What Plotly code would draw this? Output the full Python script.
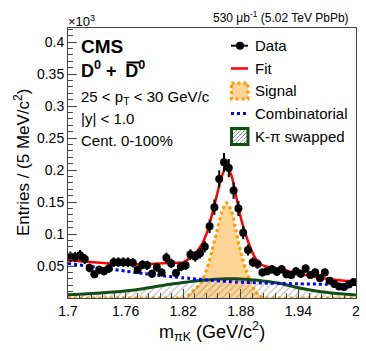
import plotly.graph_objects as go

# ---------------- data (entries in units of 10^3 per 5 MeV bin) ----------------
mass_min = 1.7
bin_width = 0.005
data_y = [0.0645, 0.064, 0.067, 0.061, 0.047, 0.037, 0.044, 0.042, 0.046, 0.056,
          0.056, 0.056, 0.056, 0.055, 0.044, 0.052, 0.051, 0.038, 0.048, 0.040,
          0.063, 0.054, 0.039, 0.049, 0.051, 0.068, 0.065, 0.070, 0.080, 0.112,
          0.142, 0.186, 0.212, 0.203, 0.168, 0.140, 0.102, 0.075, 0.056, 0.053,
          0.040, 0.042, 0.045, 0.041, 0.045, 0.037, 0.036, 0.042, 0.038, 0.046,
          0.036, 0.040, 0.031, 0.040, 0.027, 0.022, 0.018, 0.017, 0.021, 0.025]
bin_centers = [round(mass_min + bin_width * (i + 0.5), 5) for i in range(len(data_y))]
data_err = [(v / 1000.0) ** 0.5 for v in data_y]  # sqrt(N) in units of 10^3

# fit components sampled along the mass axis
curve_x = [1.70, 1.72, 1.74, 1.76, 1.78, 1.80, 1.81, 1.82, 1.825, 1.83, 1.835, 1.84,
           1.845, 1.85, 1.855, 1.86, 1.865, 1.87, 1.875, 1.88, 1.885, 1.89, 1.895,
           1.90, 1.905, 1.91, 1.92, 1.94, 1.96, 1.98, 2.00]
signal_y = [0, 0, 0, 0, 0, 0, 0, 0, 0.004, 0.011, 0.018, 0.029,
            0.047, 0.074, 0.104, 0.133, 0.149, 0.137, 0.105, 0.071, 0.046, 0.026, 0.011,
            0.003, 0, 0, 0, 0, 0, 0, 0]
swapped_y = [0.005, 0.0065, 0.0085, 0.011, 0.015, 0.020, 0.0222, 0.0242, 0.0252, 0.026, 0.0268, 0.0276,
             0.0283, 0.0289, 0.0294, 0.0298, 0.030, 0.030, 0.0299, 0.0296, 0.0292, 0.0287, 0.028,
             0.0272, 0.0263, 0.0253, 0.023, 0.016, 0.0105, 0.007, 0.0048]
comb_y = [0.054, 0.050, 0.046, 0.042, 0.038, 0.0345, 0.033, 0.0315, 0.031, 0.030, 0.0295, 0.029,
          0.028, 0.0275, 0.027, 0.0265, 0.026, 0.0255, 0.025, 0.0248, 0.0245, 0.024, 0.0238,
          0.0235, 0.0233, 0.023, 0.0228, 0.0222, 0.0217, 0.0213, 0.021]
fit_y = [0.059, 0.0565, 0.0545, 0.053, 0.053, 0.0545, 0.0552, 0.0557, 0.0602, 0.067, 0.0743, 0.0856,
         0.1033, 0.1304, 0.1604, 0.1893, 0.205, 0.1925, 0.1599, 0.1254, 0.0997, 0.0787, 0.0628,
         0.0537, 0.0496, 0.0483, 0.0458, 0.0382, 0.0322, 0.0283, 0.0258]

x_tickvals = [1.7, 1.76, 1.82, 1.88, 1.94, 2.0]
x_ticktext = ["1.7", "1.76", "1.82", "1.88", "1.94", "2"]
y_tickvals = [0.05, 0.1, 0.15, 0.2, 0.25, 0.3, 0.35, 0.4]
y_ticktext = ["0.05", "0.1", "0.15", "0.2", "0.25", "0.3", "0.35", "0.4"]
legend_labels = ["Data", "Fit", "Signal", "Combinatorial", "K-\u03c0 swapped"]

# ---------------- styling ----------------
FONT = "Liberation Sans, Arial, Helvetica, sans-serif"
W, H = 366, 351
L, R, T, B = 68, 356, 28, 298

def px2x(p):
    return (p - L) / (R - L)

def py2y(p):
    return (B - p) / (B - T)

SIG_FILL = "rgba(255,160,20,0.45)"
SIG_LINE = "#ff9900"
SWP_LINE = "#114d14"
SWP_HATCH = "#7f8e7f"
COMB_LINE = "#0000ff"
FIT_LINE = "#ff0000"

fig = go.Figure()

fig.add_trace(go.Scatter(x=curve_x, y=signal_y, mode="lines", fill="tozeroy",
                         fillcolor=SIG_FILL,
                         line=dict(color=SIG_LINE, width=3, dash="dot", shape="spline", smoothing=0.8),
                         showlegend=False, hoverinfo="skip"))
fig.add_trace(go.Scatter(x=curve_x, y=swapped_y, mode="lines", fill="tozeroy",
                         fillcolor="rgba(0,0,0,0)",
                         fillpattern=dict(shape="/", fgcolor=SWP_HATCH, size=5, solidity=0.28),
                         line=dict(color=SWP_LINE, width=3, shape="spline", smoothing=0.8),
                         showlegend=False, hoverinfo="skip"))
fig.add_trace(go.Scatter(x=curve_x, y=comb_y, mode="lines",
                         line=dict(color=COMB_LINE, width=3, dash="dot", shape="spline", smoothing=0.8),
                         showlegend=False, hoverinfo="skip"))
fig.add_trace(go.Scatter(x=curve_x, y=fit_y, mode="lines",
                         line=dict(color=FIT_LINE, width=2.5, shape="spline", smoothing=0.8),
                         showlegend=False, hoverinfo="skip"))
fig.add_trace(go.Scatter(x=bin_centers, y=data_y, mode="markers",
                         marker=dict(color="black", size=8),
                         error_y=dict(type="data", array=data_err, color="black", thickness=2, width=0),
                         showlegend=False))

axis_common = dict(showline=True, linecolor="#444", linewidth=1, mirror=True, automargin=False,
                   ticks="inside", tickcolor="#444", showgrid=False, zeroline=False,
                   tickfont=dict(family=FONT, size=14, color="black"))

fig.update_xaxes(range=[1.7, 2.0], tickvals=x_tickvals, ticktext=x_ticktext, ticklen=9,
                 minor=dict(ticks="inside", ticklen=5, dtick=0.012, tick0=1.7, tickcolor="#444"),
                 **axis_common)
fig.update_yaxes(range=[0.0, 0.422], ticklen=9, tickvals=y_tickvals, ticktext=y_ticktext,
                 minor=dict(ticks="inside", ticklen=5, dtick=0.01, tick0=0, tickcolor="#444"),
                 **axis_common)

ann = []
def text(x, y, s, size, anchor="left", bold=False, angle=0):
    ann.append(dict(x=x, y=y, xref="paper", yref="paper", text=("<b>%s</b>" % s) if bold else s,
                    showarrow=False, xanchor=anchor, yanchor="middle", textangle=angle,
                    font=dict(family=FONT, size=size, color="black")))

# axis titles
text(px2x(212), py2y(331), "m<sub>\u03c0K</sub> (GeV/c<sup>2</sup>)", 18, anchor="center")
text(px2x(22), py2y(163), "Entries / (5 MeV/c<sup>2</sup>)", 17, anchor="center", angle=-90)

text(px2x(66), py2y(21), "\u00d710<sup>3</sup>", 13)
text(px2x(351), py2y(17), "530 \u03bcb<sup>-1</sup> (5.02 TeV PbPb)", 12, anchor="right")
text(px2x(79), py2y(46.5), "CMS", 19, bold=True)
text(px2x(79), py2y(69), "D<sup>0</sup> + \u2009D<sup>0</sup>", 18, bold=True)
text(px2x(79), py2y(97), "25 < p<sub>T</sub> < 30 GeV/c", 15)
text(px2x(79), py2y(118), "|y| < 1.0", 15)
text(px2x(79), py2y(140), "Cent. 0-100%", 15)

# legend (manual, ROOT style)
leg_y = [45.7, 68.5, 91, 113.5, 136.5]
for lab, yy in zip(legend_labels, leg_y):
    text(px2x(253), py2y(yy), lab, 15)

shapes = []
def pline(x0, y0, x1, y1, color, width, dash="solid"):
    shapes.append(dict(type="line", xref="paper", yref="paper", x0=px2x(x0), y0=py2y(y0),
                       x1=px2x(x1), y1=py2y(y1), line=dict(color=color, width=width, dash=dash)))

# overline of anti-D
pline(126.5, 62.5, 139, 62.5, "black", 2)

# Data
pline(231, leg_y[0], 248, leg_y[0], "black", 2)
shapes.append(dict(type="circle", xref="paper", yref="paper", x0=px2x(236), x1=px2x(244),
                   y0=py2y(leg_y[0] - 4), y1=py2y(leg_y[0] + 4), fillcolor="black", line=dict(width=0)))
# Fit
pline(231, leg_y[1], 248, leg_y[1], FIT_LINE, 2.5)
# Signal box
shapes.append(dict(type="rect", xref="paper", yref="paper", x0=px2x(231.5), x1=px2x(248),
                   y0=py2y(leg_y[2] - 8), y1=py2y(leg_y[2] + 8), fillcolor=SIG_FILL,
                   line=dict(color=SIG_LINE, width=3, dash="dot")))
# Combinatorial
pline(231, leg_y[3], 248, leg_y[3], COMB_LINE, 3, "dot")
# K-pi swapped box with hatch
bx0, bx1, by0, by1 = 231.5, 248, leg_y[4] - 8, leg_y[4] + 8
segs = []
k = bx0 + by0 + 3
while k < bx1 + by1:
    xa = max(bx0, k - by1); xb = min(bx1, k - by0)
    if xb > xa:
        segs.append("M%.4f,%.4f L%.4f,%.4f" % (px2x(xa), py2y(k - xa), px2x(xb), py2y(k - xb)))
    k += 4
shapes.append(dict(type="path", xref="paper", yref="paper", path=" ".join(segs),
                   line=dict(color=SWP_HATCH, width=1)))
shapes.append(dict(type="rect", xref="paper", yref="paper", x0=px2x(bx0), x1=px2x(bx1),
                   y0=py2y(by1), y1=py2y(by0), fillcolor="rgba(0,0,0,0)",
                   line=dict(color=SWP_LINE, width=3)))

fig.update_layout(width=W, height=H, margin=dict(l=L, r=W - R, t=T, b=H - B),
                  paper_bgcolor="white", plot_bgcolor="white",
                  font=dict(family=FONT, color="black"),
                  annotations=ann, shapes=shapes, showlegend=False)

fig.write_html("out.html", config={"displayModeBar": False},
               post_script="document.body.style.margin='0';document.body.style.overflow='hidden';")
